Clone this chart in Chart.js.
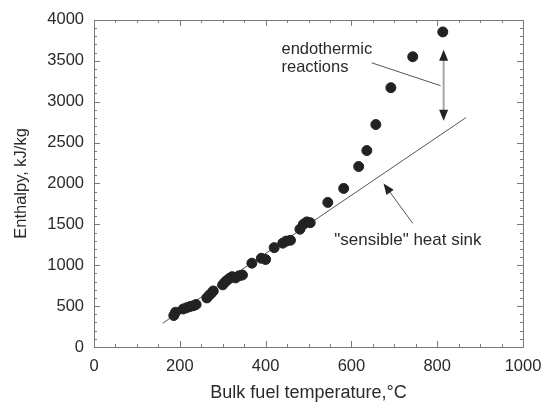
<!DOCTYPE html>
<html>
<head>
<meta charset="utf-8">
<script src="https://cdn.jsdelivr.net/npm/chart.js@4.4.0/dist/chart.umd.min.js"></script>
<style>
  html, body { margin: 0; padding: 0; background: #fff; }
  #wrap { width: 553px; height: 404px; position: relative; }
</style>
</head>
<body>
<div id="wrap"><canvas id="c" width="553" height="404"></canvas></div>
<script>
// ---- data ----
const temperatures = [186, 190, 208, 216, 224, 232, 238, 263, 268, 273, 278, 300, 305, 310, 316, 322, 330, 338, 346, 368, 390, 400, 420, 440, 448, 458, 480, 488, 496, 504, 545, 582, 617, 636, 657, 692, 743, 813];
const enthalpies   = [385, 425, 465, 480, 495, 505, 520, 600, 630, 655, 685, 760, 790, 815, 840, 860, 845, 870, 880, 1025, 1085, 1070, 1215, 1270, 1295, 1305, 1440, 1500, 1530, 1520, 1768, 1939, 2207, 2402, 2720, 3171, 3549, 3853];
const sensibleTemps = [160, 867];
const sensibleEnth  = [290, 2805];
const xTicks = [0, 200, 400, 600, 800, 1000];
const yTicks = [0, 500, 1000, 1500, 2000, 2500, 3000, 3500, 4000];
const labelEndo = ["endothermic", "reactions"];
const labelSens = "\"sensible\" heat sink";
const xTitle = "Bulk fuel temperature,\u00b0C";
const yTitle = "Enthalpy, kJ/kg";

const FONT = "'Liberation Sans', Arial, Helvetica, sans-serif";
const TXT = "#2a2a2a";

const points = temperatures.map((t, i) => ({ x: t, y: enthalpies[i] }));
const sensible = sensibleTemps.map((t, i) => ({ x: t, y: sensibleEnth[i] }));

function arrowHead(ctx, x1, y1, x2, y2, len, half) {
  const a = Math.atan2(y2 - y1, x2 - x1);
  ctx.beginPath();
  ctx.moveTo(x2, y2);
  ctx.lineTo(x2 - len * Math.cos(a) + half * Math.sin(a), y2 - len * Math.sin(a) - half * Math.cos(a));
  ctx.lineTo(x2 - len * Math.cos(a) - half * Math.sin(a), y2 - len * Math.sin(a) + half * Math.cos(a));
  ctx.closePath();
  ctx.fill();
}

const framePlugin = {
  id: 'frameTicks',
  afterDraw(chart) {
    const { ctx, chartArea: a, scales: { x, y } } = chart;
    ctx.save();
    ctx.strokeStyle = '#7a7a7a';
    ctx.lineWidth = 1;
    ctx.strokeRect(Math.round(a.left) + 0.5, Math.round(a.top) + 0.5, Math.round(a.right - a.left), Math.round(a.bottom - a.top));
    ctx.beginPath();
    for (let v = 0; v <= 1000; v += 50) {
      const px = Math.round(x.getPixelForValue(v)) + 0.5;
      const L = (v % 200 === 0) ? 6 : 3;
      ctx.moveTo(px, a.bottom); ctx.lineTo(px, a.bottom - L);
      ctx.moveTo(px, a.top); ctx.lineTo(px, a.top + L);
    }
    for (let v = 0; v <= 4000; v += 100) {
      const py = Math.round(y.getPixelForValue(v)) + 0.5;
      const L = (v % 500 === 0) ? 6 : 3;
      ctx.moveTo(a.left, py); ctx.lineTo(a.left + L, py);
      ctx.moveTo(a.right, py); ctx.lineTo(a.right - L, py);
    }
    ctx.stroke();

    // annotations
    const X = v => x.getPixelForValue(v), Y = v => y.getPixelForValue(v);
    ctx.fillStyle = TXT;
    ctx.textBaseline = 'middle';
    ctx.textAlign = 'left';
    ctx.font = "16.5px " + FONT;
    ctx.fillText(labelEndo[0], X(437), Y(3640));
    ctx.fillText(labelEndo[1], X(437), Y(3420));
    ctx.font = "17px " + FONT;
    ctx.fillText(labelSens, X(560), Y(1305));

    // endothermic leader line
    ctx.strokeStyle = '#555';
    ctx.lineWidth = 1;
    ctx.beginPath();
    ctx.moveTo(X(647), Y(3476)); ctx.lineTo(X(808), Y(3195));
    ctx.stroke();

    // double arrow
    const ax = X(815), ayTop = Y(3634), ayBot = Y(2768);
    ctx.strokeStyle = '#a8a8a8';
    ctx.lineWidth = 2;
    ctx.beginPath();
    ctx.moveTo(ax, ayTop + 8); ctx.lineTo(ax, ayBot - 8);
    ctx.stroke();
    ctx.fillStyle = '#222';
    arrowHead(ctx, ax, ayTop + 20, ax, ayTop, 11, 4.5);
    arrowHead(ctx, ax, ayBot - 20, ax, ayBot, 11, 4.5);

    // sensible arrow
    const sx1 = X(743), sy1 = Y(1512), sx2 = X(675), sy2 = Y(2000);
    ctx.strokeStyle = '#555';
    ctx.lineWidth = 1;
    ctx.beginPath();
    ctx.moveTo(sx1, sy1); ctx.lineTo(sx2 + (sx1 - sx2) * 0.2, sy2 + (sy1 - sy2) * 0.2);
    ctx.stroke();
    arrowHead(ctx, sx1, sy1, sx2, sy2, 11, 4.5);
    ctx.restore();
  }
};

new Chart(document.getElementById('c'), {
  type: 'scatter',
  data: {
    datasets: [
      {
        type: 'line',
        data: sensible,
        borderColor: '#555555',
        borderWidth: 1,
        pointRadius: 0,
        fill: false,
        order: 2
      },
      {
        data: points,
        backgroundColor: '#222222',
        borderColor: '#222222',
        pointRadius: 5,
        pointHoverRadius: 5,
        order: 1
      }
    ]
  },
  options: {
    responsive: false,
    animation: false,
    events: [],
    layout: { padding: { top: 19, right: 30, left: 0, bottom: 0 } },
    plugins: { legend: { display: false }, tooltip: { enabled: false } },
    scales: {
      x: {
        type: 'linear', min: 0, max: 1000,
        afterBuildTicks: s => { s.ticks = xTicks.map(v => ({ value: v })); },
        afterFit: s => { s.height = 57; },
        grid: { display: false, drawTicks: false },
        border: { display: false },
        ticks: { color: TXT, font: { family: FONT, size: 16.5 }, padding: 10, maxRotation: 0, callback: v => String(v) },
        title: { display: true, text: xTitle, color: TXT, font: { family: FONT, size: 18 }, padding: { top: 0, bottom: 0 } }
      },
      y: {
        type: 'linear', min: 0, max: 4000,
        afterBuildTicks: s => { s.ticks = yTicks.map(v => ({ value: v })); },
        afterFit: s => { s.width = 94; },
        grid: { display: false, drawTicks: false },
        border: { display: false },
        ticks: { color: TXT, font: { family: FONT, size: 16.5 }, padding: 10, callback: v => String(v) },
        title: { display: true, text: yTitle, color: TXT, font: { family: FONT, size: 16.5 }, padding: { top: 12, bottom: 0 } }
      }
    }
  },
  plugins: [framePlugin]
});
</script>
</body>
</html>
